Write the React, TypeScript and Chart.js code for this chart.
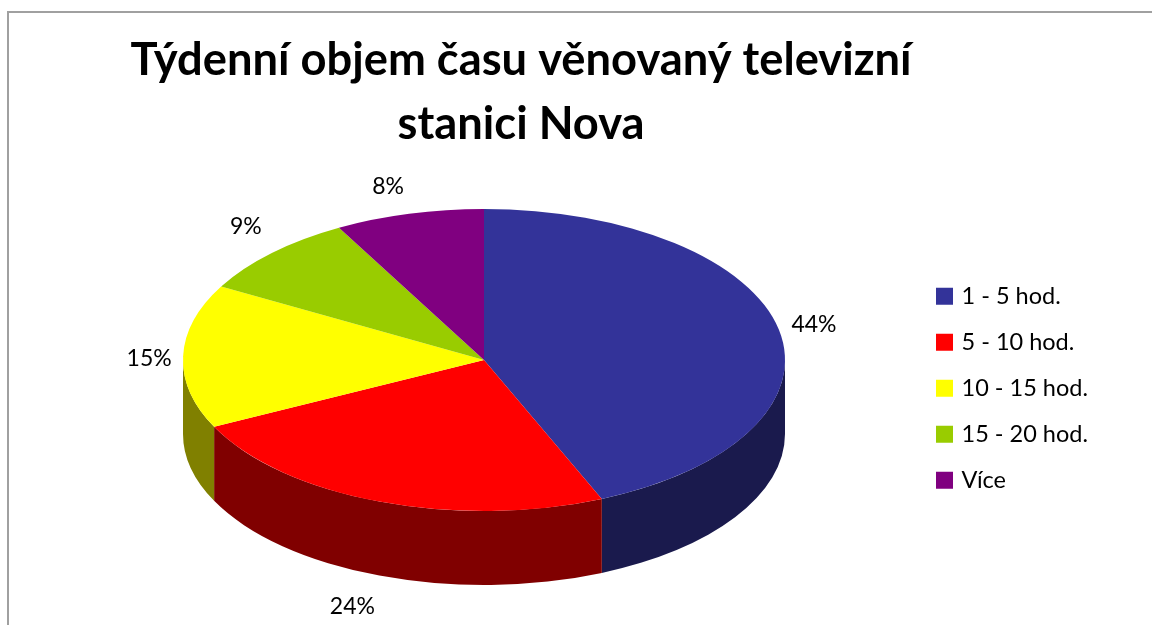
import React, { useEffect, useRef } from "react";
import { Chart, registerables } from "chart.js";

Chart.register(...registerables);

const categories = ["1 - 5 hod.", "5 - 10 hod.", "10 - 15 hod.", "15 - 20 hod.", "Více"];
const values = [43.6, 24.1, 15.4, 8.9, 8.0];
const labels = ["44%", "24%", "15%", "9%", "8%"];
const topColors = ["#333399", "#FF0000", "#FFFF00", "#99CC00", "#800080"];
const sideColors = ["#1A1A4D", "#800000", "#808000", "#4D6600", "#400040"];
const titleLines = ["Týdenní objem času věnovaný televizní", "stanici Nova"];

const FONT = "Lato, Carlito, Calibri, sans-serif";
const SQUASH = 151 / 301;
const DEPTH = 74;
const labelOffsets = [
  [35, -5],
  [-27, 105],
  [-34, 2],
  [-26, -26],
  [-21, -27],
];

const pie3d = {
  id: "pie3d",
  beforeDraw(chart: any) {
    const { ctx } = chart;
    ctx.save();
    ctx.strokeStyle = "#A0A0A0";
    ctx.lineWidth = 2;
    ctx.beginPath();
    ctx.moveTo(8, 625);
    ctx.lineTo(8, 12);
    ctx.lineTo(1152, 12);
    ctx.stroke();
    ctx.restore();
  },
  afterLayout(chart: any) {
    chart.chartArea = { left: 183, right: 785, top: 59, bottom: 661, width: 602, height: 602 };
    const t = chart.titleBlock;
    t.left = 0;
    t.right = 1042;
    t.top = 28;
    t.bottom = 156;
    const l = chart.legend;
    l.left = 916.75;
    l.right = 1152;
    l.top = 262;
    l.bottom = 625;
  },
  beforeDatasetsDraw(chart: any) {
    const { ctx } = chart;
    const arcs = chart.getDatasetMeta(0).data;
    arcs.forEach((arc: any, i: number) => {
      const { x, y, startAngle, endAngle, outerRadius } = arc.getProps(
        ["x", "y", "startAngle", "endAngle", "outerRadius"],
        true
      );
      const ranges = [
        [Math.max(startAngle, 0), Math.min(endAngle, Math.PI)],
        [Math.max(startAngle, 2 * Math.PI), Math.min(endAngle, 3 * Math.PI)],
      ];
      ranges.forEach(([a0, a1]) => {
        if (a1 <= a0) return;
        const ry = outerRadius * SQUASH;
        ctx.save();
        ctx.fillStyle = sideColors[i];
        ctx.beginPath();
        ctx.ellipse(x, y, outerRadius, ry, 0, a0, a1);
        ctx.ellipse(x, y + DEPTH, outerRadius, ry, 0, a1, a0, true);
        ctx.closePath();
        ctx.fill();
        ctx.restore();
      });
    });
  },
  beforeDatasetDraw(chart: any) {
    const { ctx } = chart;
    const cy = chart.getDatasetMeta(0).data[0].y;
    ctx.save();
    ctx.translate(0, cy);
    ctx.scale(1, SQUASH);
    ctx.translate(0, -cy);
  },
  afterDatasetDraw(chart: any) {
    chart.ctx.restore();
  },
  afterDatasetsDraw(chart: any) {
    const { ctx } = chart;
    const arcs = chart.getDatasetMeta(0).data;
    ctx.save();
    ctx.fillStyle = "#000";
    ctx.font = `23px ${FONT}`;
    ctx.textAlign = "center";
    ctx.textBaseline = "middle";
    arcs.forEach((arc: any, i: number) => {
      const { x, y, startAngle, endAngle, outerRadius } = arc.getProps(
        ["x", "y", "startAngle", "endAngle", "outerRadius"],
        true
      );
      const mid = (startAngle + endAngle) / 2;
      const px = x + outerRadius * Math.cos(mid) + labelOffsets[i][0];
      const py = y + outerRadius * SQUASH * Math.sin(mid) + labelOffsets[i][1];
      ctx.fillText(labels[i], px, py);
    });
    ctx.restore();
  },
};

export default function App() {
  const ref = useRef<HTMLCanvasElement>(null);
  useEffect(() => {
    const chart = new Chart(ref.current as HTMLCanvasElement, {
      type: "pie",
      data: {
        labels: categories,
        datasets: [
          {
            data: values,
            backgroundColor: topColors,
            borderWidth: 0,
            radius: 301,
            clip: false,
          } as any,
        ],
      },
      options: {
        responsive: false,
        animation: false,
        layout: { padding: 0 },
        plugins: {
          tooltip: { enabled: false },
          title: {
            display: true,
            text: titleLines,
            color: "#000",
            font: { family: FONT, size: 45.3, weight: "bold", lineHeight: 64 / 45.3 },
            padding: 0,
          },
          legend: {
            position: "right",
            align: "start",
            labels: {
              usePointStyle: true,
              pointStyle: "rect",
              boxWidth: 10.5,
              boxHeight: 17,
              padding: 22.5,
              color: "#000",
              font: { family: FONT, size: 23.5 },
            },
          },
        },
      },
      plugins: [pie3d],
    } as any);
    return () => chart.destroy();
  }, []);
  return (
    <canvas
      ref={ref}
      width={1152}
      height={625}
      style={{ position: "fixed", left: 0, top: 0, display: "block" }}
    />
  );
}
